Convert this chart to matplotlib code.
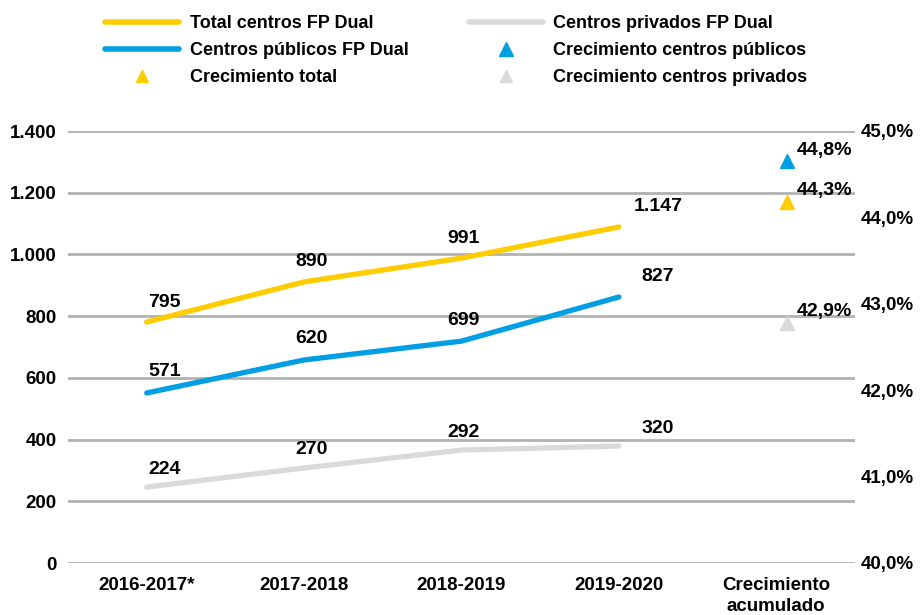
import numpy as np
import matplotlib.pyplot as plt
from matplotlib.lines import Line2D

plt.rcParams['font.family'] = ['Liberation Sans', 'DejaVu Sans']
plt.rcParams['font.weight'] = 'bold'

# data
categorias = ['2016-2017*', '2017-2018', '2018-2019', '2019-2020', 'Crecimiento\nacumulado']
total = [781, 911, 988, 1089]
publicos = [551, 658, 719, 862]
privados = [246, 308, 366, 379]
total_etiq = ['795', '890', '991', '1.147']
publicos_etiq = ['571', '620', '699', '827']
privados_etiq = ['224', '270', '292', '320']
crec_total = 44.18
crec_publicos = 44.65
crec_privados = 42.78
crec_etiq = ['44,3%', '44,8%', '42,9%']

amarillo = '#FFCC00'
azul = '#009FE3'
gris = '#DADADA'
rejilla = '#B2B2B2'

fig = plt.figure(figsize=(9.23, 6.15), dpi=100)
ax = fig.add_axes([68/923, 52/615, 787/923, 432/615])
ax2 = ax.twinx()

x = np.arange(4)
ax.plot(x, total, color=amarillo, lw=3.8, solid_capstyle='round', zorder=3)
ax.plot(x, publicos, color=azul, lw=3.8, solid_capstyle='round', zorder=3)
ax.plot(x, privados, color=gris, lw=3.8, solid_capstyle='round', zorder=3)

dx = [18, 7, 2, 39]
for serie, etiq, dy in [(total, total_etiq, 20), (publicos, publicos_etiq, 21), (privados, privados_etiq, 18)]:
    for i in range(4):
        ax.annotate(etiq[i], (x[i], serie[i]), xytext=(dx[i], dy), textcoords='offset pixels',
                    ha='center', va='center', fontsize=14, fontweight='bold')

ax.set_xlim(-0.5, 4.5)
ax.set_ylim(0, 1400)
ax.set_yticks(range(0, 1401, 200))
ax.set_yticklabels(['0', '200', '400', '600', '800', '1.000', '1.200', '1.400'])
ax.set_xticks(range(5))
ax.set_xticklabels(categorias, fontsize=13.5, fontweight='bold', linespacing=1.3)
ax.grid(axis='y', color=rejilla, lw=2)
ax.set_axisbelow(True)
ax.tick_params(axis='y', length=0, labelsize=13.5, pad=8)
ax.tick_params(axis='x', length=0, labelsize=13.5, pad=10)
for s in ax.spines.values():
    s.set_visible(False)

ax2.set_ylim(40, 45)
ax2.set_yticks([40, 41, 42, 43, 44, 45])
ax2.set_yticklabels(['40,0%', '41,0%', '42,0%', '43,0%', '44,0%', '45,0%'])
ax2.tick_params(axis='y', length=0, labelsize=13.5, pad=4)
for s in ax2.spines.values():
    s.set_visible(False)

for val, col, etiq in [(crec_total, amarillo, crec_etiq[0]), (crec_publicos, azul, crec_etiq[1]),
                       (crec_privados, gris, crec_etiq[2])]:
    ax2.plot([4.07], [val], marker='^', color=col, markersize=10, ls='none')
    ax2.annotate(etiq, (4.07, val), xytext=(9, 11), textcoords='offset pixels',
                 ha='left', va='center', fontsize=14, fontweight='bold')

handles = [
    Line2D([], [], color=amarillo, lw=4, solid_capstyle='round'),
    Line2D([], [], color=azul, lw=4, solid_capstyle='round'),
    Line2D([], [], color=amarillo, marker='^', ls='none', markersize=8),
    Line2D([], [], color=gris, lw=4, solid_capstyle='round'),
    Line2D([], [], color=azul, marker='^', ls='none', markersize=10),
    Line2D([], [], color=gris, marker='^', ls='none', markersize=8),
]
labels = ['Total centros FP Dual', 'Centros públicos FP Dual', 'Crecimiento total',
          'Centros privados FP Dual', 'Crecimiento centros públicos', 'Crecimiento centros privados']
fig.legend(handles, labels, ncol=2, loc='upper left', bbox_to_anchor=(90/923, 1.0), frameon=False,
           fontsize=13, handlelength=4.1, columnspacing=3.3, labelspacing=0.55, handletextpad=0.6,
           borderaxespad=0.45)

fig.savefig('out.png', dpi=100)
